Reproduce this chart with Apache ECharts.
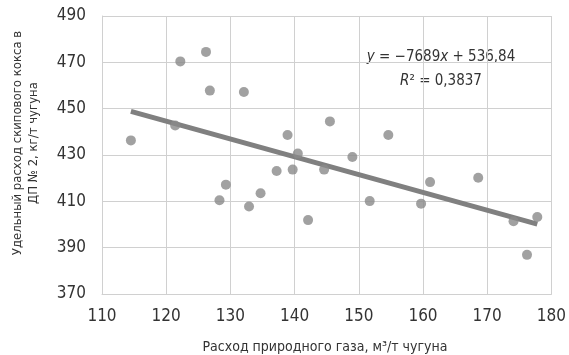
<!DOCTYPE html>
<html>
<head>
<meta charset="utf-8">
<script src="https://cdn.jsdelivr.net/npm/echarts@6/dist/echarts.min.js"></script>
<style>
  html, body { margin: 0; padding: 0; background: #fff; }
  #chart { width: 569px; height: 355px; }
</style>
</head>
<body>
<div id="chart"></div>
<script>
// natural gas consumption, m3/t hot metal
const gasX = [
  114.5, 122.2, 126.2, 126.8, 132.1, 121.4, 138.9, 140.5, 145.5, 137.2,
  139.7, 144.6, 129.3, 128.3, 132.9, 134.7, 142.1, 154.6, 149.0, 161.1,
  168.6, 151.7, 159.7, 174.1, 177.8, 176.2,
];
// skip coke consumption, kg/t hot metal
const cokeY = [
  436.3, 470.4, 474.5, 457.8, 457.2, 442.7, 438.6, 430.6, 444.5, 423.1,
  423.7, 423.7, 417.2, 410.5, 407.8, 413.5, 401.9, 438.6, 429.1, 418.3,
  420.2, 410.1, 409.0, 401.4, 403.2, 386.9,
];
const xTicks = [110, 120, 130, 140, 150, 160, 170, 180];
const yTicks = [370, 390, 410, 430, 450, 470, 490];
const trendSlope = -0.7689;
const trendIntercept = 536.84;

const font = '"Liberation Sans Narrow", "DejaVu Sans Condensed", sans-serif';
const points = gasX.map((x, i) => [x, cokeY[i]]);
const xMin = Math.min(...gasX), xMax = Math.max(...gasX);
const trend = [xMin, xMax].map(x => [x, trendIntercept + trendSlope * x]);

const chart = echarts.init(document.getElementById("chart"));
const option = {
  animation: false,
  grid: { left: 102, right: 13, top: 16, bottom: 61 },
  xAxis: {
    type: "value",
    min: xTicks[0],
    max: xTicks[xTicks.length - 1],
    interval: 10,
    axisLine: { show: true, lineStyle: { color: "#d0d0d0" } },
    axisTick: { show: false },
    splitLine: { show: true, lineStyle: { color: "#d0d0d0", width: 1 } },
    axisLabel: { color: "#333", fontFamily: font, fontSize: 17, margin: 14 },
  },
  yAxis: {
    type: "value",
    min: yTicks[0],
    max: yTicks[yTicks.length - 1],
    interval: 20,
    axisLine: { show: true, lineStyle: { color: "#d0d0d0" } },
    axisTick: { show: false },
    splitLine: { show: true, lineStyle: { color: "#d0d0d0", width: 1 } },
    axisLabel: { color: "#333", fontFamily: font, fontSize: 17, margin: 16 },
  },
  series: [
    {
      type: "scatter",
      data: points,
      symbolSize: 10,
      itemStyle: { color: "#8a8a8a" },
      z: 3,
    },
    {
      type: "line",
      data: trend,
      symbol: "none",
      lineStyle: { color: "#808080", width: 5 },
      z: 2,
    },
  ],
  graphic: [
    {
      type: "text",
      x: 26,
      y: 143,
      rotation: Math.PI / 2,
      style: {
        text: "Удельный расход скипового кокса в\nДП № 2, кг/т чугуна",
        font: "13px " + font,
        fill: "#333",
        align: "center",
        verticalAlign: "middle",
        lineHeight: 16,
      },
    },
    {
      type: "text",
      x: 325,
      y: 347,
      style: {
        text: "Расход природного газа, м³/т чугуна",
        font: "14px " + font,
        fill: "#333",
        align: "center",
        verticalAlign: "middle",
      },
    },
    {
      type: "text",
      x: 441,
      y: 57,
      style: {
        text: "{i|y} = −7689{i|x} + 536,84",
        font: "15px " + font,
        fill: "#333",
        align: "center",
        verticalAlign: "middle",
        rich: { i: { fontStyle: "italic", fontFamily: font, fontSize: 15, fill: "#333" } },
      },
    },
    {
      type: "text",
      x: 441,
      y: 81,
      style: {
        text: "{i|R}² = 0,3837",
        font: "15px " + font,
        fill: "#333",
        align: "center",
        verticalAlign: "middle",
        rich: { i: { fontStyle: "italic", fontFamily: font, fontSize: 15, fill: "#333" } },
      },
    },
  ],
};
chart.setOption(option);
</script>
</body>
</html>
